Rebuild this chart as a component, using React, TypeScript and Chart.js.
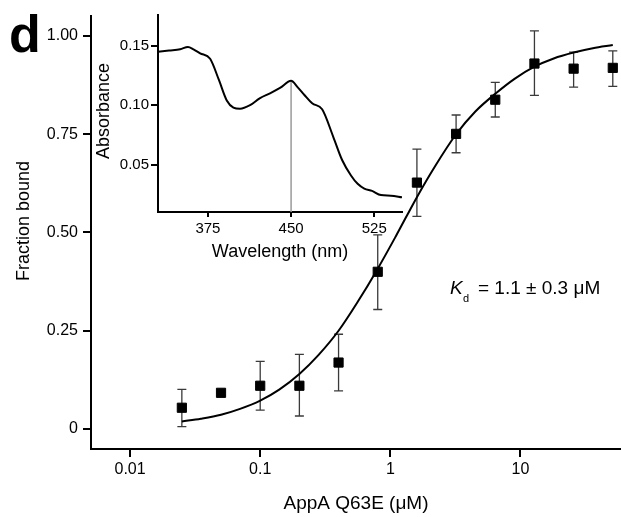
import React, { useEffect, useRef } from 'react';
import { Chart, registerables } from 'chart.js';

Chart.register(...registerables);

const FONT = '"Liberation Sans", Arial, Helvetica, sans-serif';

// ---- Main binding data ----
const concentrations = [0.025, 0.05, 0.1, 0.2, 0.4, 0.8, 1.6, 3.2, 6.4, 12.8, 25.6, 51.2];
const fractionBound = [0.054, 0.092, 0.110, 0.110, 0.169, 0.400, 0.627, 0.751, 0.838, 0.930, 0.917, 0.919];
const errorHigh = [0.101, null, 0.172, 0.190, 0.241, 0.494, 0.712, 0.799, 0.882, 1.013, 0.959, 0.962];
const errorLow = [0.006, null, 0.048, 0.033, 0.097, 0.304, 0.541, 0.703, 0.794, 0.849, 0.870, 0.872];

// ---- Fit curve ----
const fitConc = [0.025, 0.035, 0.05, 0.07, 0.1, 0.14, 0.2, 0.28, 0.4, 0.56, 0.8, 1.1, 1.6, 2.2, 3.2, 4.5, 6.4, 9, 12.8, 18, 25.6, 36, 51.2];
const fitFraction = [0.019, 0.026, 0.036, 0.051, 0.072, 0.100, 0.140, 0.188, 0.250, 0.323, 0.408, 0.490, 0.590, 0.668, 0.750, 0.808, 0.853, 0.891, 0.922, 0.943, 0.958, 0.969, 0.977];

const xTickValues = [0.01, 0.1, 1, 10];
const xTickLabels = ['0.01', '0.1', '1', '10'];
const yTickValues = [0, 0.25, 0.5, 0.75, 1];
const yTickLabels = ['0', '0.25', '0.50', '0.75', '1.00'];

// ---- Inset spectrum ----
const wavelengths = [330, 340, 350, 357, 362, 368, 377, 385, 392, 398, 404, 413, 422, 431, 440, 450, 456, 462, 469, 478, 488, 496, 504, 510, 516, 523, 531, 540, 550];
const absorbance = [0.145, 0.146, 0.147, 0.149, 0.147, 0.1436, 0.139, 0.121, 0.104, 0.098, 0.097, 0.100, 0.106, 0.110, 0.1145, 0.1205, 0.115, 0.1086, 0.1016, 0.0966, 0.0735, 0.054, 0.041, 0.034, 0.030, 0.028, 0.0245, 0.024, 0.0226];
const peakWavelength = 450;
const peakAbsorbance = 0.1205;
const insetXTicks = [375, 450, 525];
const insetXLabels = ['375', '450', '525'];
const insetYTicks = [0.05, 0.1, 0.15];
const insetYLabels = ['0.05', '0.10', '0.15'];

const errorBarPlugin = {
  id: 'errorBars',
  beforeDatasetsDraw(chart: any) {
    const ctx = chart.ctx;
    const xs = chart.scales.x;
    const ys = chart.scales.y;
    ctx.save();
    ctx.strokeStyle = '#3a3a3a';
    ctx.lineWidth = 1.3;
    concentrations.forEach((c, i) => {
      const hi = errorHigh[i];
      const lo = errorLow[i];
      if (hi == null || lo == null) return;
      const px = xs.getPixelForValue(c);
      const pHi = ys.getPixelForValue(hi);
      const pLo = ys.getPixelForValue(lo);
      ctx.beginPath();
      ctx.moveTo(px, pHi);
      ctx.lineTo(px, pLo);
      ctx.moveTo(px - 4.5, pHi);
      ctx.lineTo(px + 4.5, pHi);
      ctx.moveTo(px - 4.5, pLo);
      ctx.lineTo(px + 4.5, pLo);
      ctx.stroke();
    });
    ctx.restore();
  },
};

const mainTextPlugin = {
  id: 'mainText',
  afterDraw(chart: any) {
    const ctx = chart.ctx;
    const area = chart.chartArea;
    ctx.save();
    ctx.fillStyle = '#000';
    // panel letter
    ctx.font = `bold 52px ${FONT}`;
    ctx.textAlign = 'left';
    ctx.textBaseline = 'alphabetic';
    ctx.fillText('d', 9, 52);
    // x title
    ctx.font = `19px ${FONT}`;
    ctx.textAlign = 'center';
    ctx.fillText('AppA Q63E (\u03BCM)', (area.left + area.right) / 2, 509);
    // y title
    ctx.save();
    ctx.translate(29, 221);
    ctx.rotate(-Math.PI / 2);
    ctx.font = `18px ${FONT}`;
    ctx.textAlign = 'center';
    ctx.fillText('Fraction bound', 0, 0);
    ctx.restore();
    // Kd annotation
    ctx.textAlign = 'left';
    ctx.font = `italic 19px ${FONT}`;
    ctx.fillText('K', 450, 294);
    ctx.font = `11px ${FONT}`;
    ctx.fillText('d', 463, 302);
    ctx.font = `19px ${FONT}`;
    ctx.fillText('= 1.1 \u00B1 0.3 \u03BCM', 478, 294);
    ctx.restore();
  },
};

const insetPlugin = {
  id: 'insetExtras',
  beforeDatasetsDraw(chart: any) {
    const ctx = chart.ctx;
    const xs = chart.scales.x;
    const ys = chart.scales.y;
    const px = xs.getPixelForValue(peakWavelength);
    ctx.save();
    ctx.strokeStyle = '#9a9a9a';
    ctx.lineWidth = 1.5;
    ctx.beginPath();
    ctx.moveTo(px, chart.chartArea.bottom);
    ctx.lineTo(px, ys.getPixelForValue(peakAbsorbance));
    ctx.stroke();
    ctx.restore();
  },
  afterDraw(chart: any) {
    const ctx = chart.ctx;
    const area = chart.chartArea;
    ctx.save();
    ctx.fillStyle = '#000';
    ctx.font = `18px ${FONT}`;
    ctx.textAlign = 'center';
    ctx.textBaseline = 'alphabetic';
    ctx.fillText('Wavelength (nm)', (area.left + area.right) / 2, 257);
    ctx.translate(29, 111);
    ctx.rotate(-Math.PI / 2);
    ctx.fillText('Absorbance', 0, 0);
    ctx.restore();
  },
};

export default function App() {
  const mainRef = useRef<HTMLCanvasElement>(null);
  const insetRef = useRef<HTMLCanvasElement>(null);

  useEffect(() => {
    const axisGrid = (len: number) => ({
      display: true,
      drawOnChartArea: false,
      drawTicks: true,
      tickLength: len,
      color: '#000',
      lineWidth: 2,
    });
    const border = { display: true, color: '#000', width: 2 };

    const main = new Chart(mainRef.current as HTMLCanvasElement, {
      type: 'scatter',
      data: {
        datasets: [
          {
            label: 'Fraction bound',
            data: concentrations.map((x, i) => ({ x, y: fractionBound[i] })),
            pointStyle: 'rect',
            pointRadius: 6.5,
            pointHoverRadius: 6.5,
            backgroundColor: '#000',
            borderColor: '#000',
            borderWidth: 1,
            showLine: false,
            clip: false,
            order: 0,
          },
          {
            label: 'Fit',
            type: 'line',
            data: fitConc.map((x, i) => ({ x, y: fitFraction[i] })),
            borderColor: '#000',
            borderWidth: 2,
            pointRadius: 0,
            cubicInterpolationMode: 'monotone',
            fill: false,
            showLine: true,
            order: 1,
          } as any,
        ],
      },
      options: {
        responsive: false,
        animation: false,
        events: [],
        layout: { autoPadding: false, padding: { top: 16, left: 0, right: 0, bottom: 0 } },
        plugins: { legend: { display: false }, tooltip: { enabled: false } },
        scales: {
          x: {
            type: 'logarithmic',
            min: 0.00501,
            max: 59.2,
            afterFit: (s: any) => { s.height = 68; s.paddingRight = 0; s.paddingLeft = 0; },
            afterBuildTicks: (s: any) => { s.ticks = xTickValues.map((v) => ({ value: v })); },
            ticks: {
              callback: (_v: any, i: number) => xTickLabels[i],
              color: '#000',
              font: { family: FONT, size: 16 },
              padding: 3,
              maxRotation: 0,
              autoSkip: false,
            },
            grid: axisGrid(8),
            border,
          },
          y: {
            type: 'linear',
            min: -0.051,
            max: 1.051,
            afterFit: (s: any) => { s.width = 91; s.paddingTop = 0; s.paddingBottom = 0; },
            afterBuildTicks: (s: any) => { s.ticks = yTickValues.map((v) => ({ value: v })); },
            ticks: {
              callback: (_v: any, i: number) => yTickLabels[i],
              color: '#000',
              font: { family: FONT, size: 16 },
              padding: 5,
              autoSkip: false,
            },
            grid: axisGrid(8),
            border,
          },
        },
      } as any,
      plugins: [errorBarPlugin, mainTextPlugin],
    });

    const inset = new Chart(insetRef.current as HTMLCanvasElement, {
      type: 'scatter',
      data: {
        datasets: [
          {
            label: 'Absorbance',
            data: wavelengths.map((x, i) => ({ x, y: absorbance[i] })),
            borderColor: '#000',
            borderWidth: 2,
            pointRadius: 0,
            showLine: true,
            cubicInterpolationMode: 'monotone',
            fill: false,
          } as any,
        ],
      },
      options: {
        responsive: false,
        animation: false,
        events: [],
        layout: { autoPadding: false, padding: { top: 15, left: 0, right: 18, bottom: 0 } },
        plugins: { legend: { display: false }, tooltip: { enabled: false } },
        scales: {
          x: {
            type: 'linear',
            min: 330,
            max: 550,
            afterFit: (s: any) => { s.height = 58; s.paddingRight = 0; s.paddingLeft = 0; },
            afterBuildTicks: (s: any) => { s.ticks = insetXTicks.map((v) => ({ value: v })); },
            ticks: {
              callback: (_v: any, i: number) => insetXLabels[i],
              color: '#000',
              font: { family: FONT, size: 15 },
              padding: 3,
              maxRotation: 0,
              autoSkip: false,
            },
            grid: axisGrid(5),
            border,
          },
          y: {
            type: 'linear',
            min: 0.0103,
            max: 0.1758,
            afterFit: (s: any) => { s.width = 78; s.paddingTop = 0; s.paddingBottom = 0; },
            afterBuildTicks: (s: any) => { s.ticks = insetYTicks.map((v) => ({ value: v })); },
            ticks: {
              callback: (_v: any, i: number) => insetYLabels[i],
              color: '#000',
              font: { family: FONT, size: 15 },
              padding: 2,
              autoSkip: false,
            },
            grid: axisGrid(7),
            border,
          },
        },
      } as any,
      plugins: [insetPlugin],
    });

    return () => {
      main.destroy();
      inset.destroy();
    };
  }, []);

  return (
    <div style={{ position: 'absolute', left: 0, top: 0, width: 621, height: 517, background: '#fff' }}>
      <canvas ref={mainRef} width={621} height={517} style={{ position: 'absolute', left: 0, top: 0 }} />
      <canvas ref={insetRef} width={340} height={270} style={{ position: 'absolute', left: 80, top: 0 }} />
    </div>
  );
}
